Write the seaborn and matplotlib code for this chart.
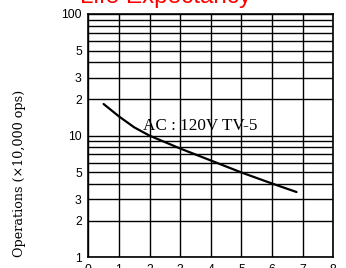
import numpy as np
import pandas as pd
import matplotlib
matplotlib.use("Agg")
import matplotlib.pyplot as plt
import seaborn as sns
from matplotlib.ticker import FixedLocator, FixedFormatter

# Data
load_x = [0.5, 1, 1.5, 2, 3, 4, 5, 6, 6.8]
operations = [18.2, 14.4, 11.7, 10.0, 7.84, 6.25, 4.98, 4.04, 3.44]

x_ticks = [0, 1, 2, 3, 4, 5, 6, 7, 8]
y_major = [1, 2, 3, 5, 10, 20, 30, 50, 100]
y_major_labels = ["1", "2", "3", "5", "10", "2", "3", "5", "100"]
y_minor = [4, 6, 7, 8, 9, 40, 60, 70, 80, 90]

title = "Life Expectancy"
ylabel = "Operations (\u00d710,000 ops)"
note = "AC : 120V TV-5"

sns.set_style("white")
plt.rcParams['font.family'] = ['Liberation Sans', 'DejaVu Sans']

fig = plt.figure(figsize=(3.46, 2.68), dpi=100)
W, H = 346, 268
ax = fig.add_axes([88.3 / W, (H - 257.3) / H, (333.3 - 88.3) / W, (257.3 - 14) / H])

df = pd.DataFrame({"x": load_x, "y": operations})
sns.lineplot(data=df, x="x", y="y", ax=ax, color="black", linewidth=1.6)

ax.set_yscale("log")
ax.set_xlim(0, 8)
ax.set_ylim(1, 100)
ax.set_xticks(x_ticks)
ax.set_xticklabels([str(v) for v in x_ticks])
ax.yaxis.set_major_locator(FixedLocator(y_major))
ax.yaxis.set_major_formatter(FixedFormatter(y_major_labels))
ax.yaxis.set_minor_locator(FixedLocator(y_minor))
ax.yaxis.set_minor_formatter(FixedFormatter([""] * len(y_minor)))
ax.grid(True, which="both", color="black", linewidth=1.0)
ax.tick_params(axis="both", which="both", length=0, labelsize=8.7, colors="black")
ax.tick_params(axis="y", pad=4.7)
ax.tick_params(axis="x", pad=4.6)
for s in ax.spines.values():
    s.set_color("black")
    s.set_linewidth(1.2)
ax.set_xlabel("")
ax.set_ylabel("")

ax.text(1.79, 11.1, note, family="Liberation Serif", fontsize=12.3, va="baseline", ha="left", color="black")

fig.text(166 / W, 1 - 3 / H, title, ha="center", va="baseline", fontsize=17.5, color="red")
fig.text(20 / W, 1 - 173 / H, ylabel, rotation=90, ha="center", va="center",
         family="DejaVu Serif", fontsize=9.2, color="black")

fig.savefig("out.png", dpi=100)
